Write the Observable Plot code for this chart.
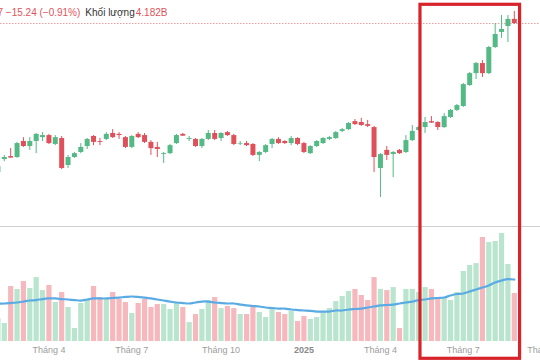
<!DOCTYPE html>
<html><head><meta charset="utf-8">
<script src="https://cdn.jsdelivr.net/npm/d3@7"></script>
<script src="https://cdn.jsdelivr.net/npm/@observablehq/plot@0.6"></script>
<style>
html,body{margin:0;padding:0;background:#fff;}
#chart{position:relative;width:540px;height:360px;overflow:hidden;background:#fff;}
.layer{position:absolute;left:0;}
#header{position:absolute;top:6px;left:-2.5px;font:10px "Liberation Sans",Arial,sans-serif;white-space:nowrap;line-height:13px;color:#333;}
#header .r{color:#e0535b;}
</style></head><body>
<div id="chart">
  <div id="price" class="layer" style="top:0"></div>
  <div id="vol" class="layer" style="top:226px"></div>
  <div id="header"><span class="r">7</span> <span class="r">−15.24 (−0.91%)</span><span style="margin-left:5px">Khối lượng</span><span class="r" style="margin-left:1px">4.182B</span></div>
  <div id="overlay" class="layer" style="top:0"></div>
</div>
<script>
// Weekly bars (Monday of each trading week)
const weeks = ["2024-02-05","2024-02-12","2024-02-19","2024-02-26","2024-03-04","2024-03-11","2024-03-18","2024-03-25","2024-04-01","2024-04-08","2024-04-15","2024-04-22","2024-04-29","2024-05-06","2024-05-13","2024-05-20","2024-05-27","2024-06-03","2024-06-10","2024-06-17","2024-06-24","2024-07-01","2024-07-08","2024-07-15","2024-07-22","2024-07-29","2024-08-05","2024-08-12","2024-08-19","2024-08-26","2024-09-02","2024-09-09","2024-09-16","2024-09-23","2024-09-30","2024-10-07","2024-10-14","2024-10-21","2024-10-28","2024-11-04","2024-11-11","2024-11-18","2024-11-25","2024-12-02","2024-12-09","2024-12-16","2024-12-23","2024-12-30","2025-01-06","2025-01-13","2025-01-20","2025-02-03","2025-02-10","2025-02-17","2025-02-24","2025-03-03","2025-03-10","2025-03-17","2025-03-24","2025-03-31","2025-04-07","2025-04-14","2025-04-21","2025-04-28","2025-05-05","2025-05-12","2025-05-19","2025-05-26","2025-06-02","2025-06-09","2025-06-16","2025-06-23","2025-06-30","2025-07-07","2025-07-14","2025-07-21","2025-07-28","2025-08-04","2025-08-11","2025-08-18","2025-08-25","2025-09-01"];
const futureWeeks = ["2025-09-08","2025-09-15","2025-09-22","2025-09-29","2025-10-06"];

const open  = [1157,1201,1211,1208,1262,1245,1262,1275,1282,1252,1272,1181,1208,1225,1245,1279,1262,1269,1289,1286,1275,1242,1286,1282,1259,1242,1218,1221,1255,1286,1269,1269,1245,1269,1289,1272,1292,1282,1252,1255,1252,1215,1225,1252,1269,1262,1255,1272,1255,1221,1245,1255,1269,1272,1296,1302,1329,1326,1319,1309,1171,1232,1218,1232,1225,1265,1299,1309,1329,1326,1309,1343,1367,1380,1451,1491,1525,1491,1579,1630,1650,1674];
const high  = [1188,1215,1238,1259,1275,1275,1289,1292,1286,1282,1279,1215,1225,1255,1272,1282,1272,1292,1302,1292,1279,1282,1292,1289,1265,1259,1225,1252,1286,1289,1279,1272,1272,1299,1299,1292,1296,1286,1262,1262,1255,1228,1252,1272,1275,1265,1279,1275,1259,1248,1265,1275,1279,1296,1306,1326,1336,1340,1333,1313,1221,1245,1228,1235,1282,1316,1313,1343,1346,1329,1356,1370,1387,1458,1495,1529,1535,1583,1660,1687,1687,1701];
const low   = [1147,1194,1205,1205,1242,1232,1221,1262,1252,1248,1167,1171,1205,1221,1235,1248,1248,1265,1272,1269,1238,1238,1272,1255,1215,1208,1188,1218,1252,1279,1262,1242,1238,1265,1265,1262,1279,1248,1248,1245,1211,1194,1221,1238,1252,1252,1248,1248,1221,1218,1242,1252,1265,1269,1292,1299,1316,1313,1309,1157,1073,1198,1140,1218,1221,1262,1296,1289,1323,1299,1306,1340,1363,1377,1448,1471,1478,1488,1576,1610,1596,1657];
const close = [1178,1208,1206,1255,1245,1262,1286,1282,1255,1275,1171,1208,1221,1242,1269,1259,1259,1286,1275,1282,1242,1279,1275,1259,1238,1235,1221,1248,1282,1280,1272,1245,1269,1289,1269,1289,1282,1252,1254,1248,1215,1225,1248,1269,1255,1255,1272,1252,1225,1245,1262,1272,1275,1292,1302,1323,1319,1316,1313,1208,1218,1215,1225,1221,1265,1296,1309,1326,1324,1309,1346,1367,1383,1454,1491,1525,1491,1579,1623,1640,1674,1660];
// weekly volume, billions of shares
const volume = [2.00,1.57,4.79,4.53,5.23,4.62,5.57,4.44,4.88,3.40,4.27,2.96,1.13,3.31,3.57,4.79,3.83,3.75,4.27,3.66,3.40,2.44,3.31,3.66,2.96,3.22,3.22,2.79,3.31,2.96,1.65,2.35,2.79,3.57,3.83,2.87,3.05,2.87,2.35,2.35,2.96,2.53,2.09,2.87,2.53,2.35,2.61,1.74,2.18,1.92,2.09,2.53,2.87,3.48,3.92,4.36,4.53,4.01,3.57,5.57,4.53,4.44,4.70,1.13,4.53,4.53,4.27,4.70,4.53,3.83,3.75,3.57,4.27,6.10,6.62,6.79,9.06,8.62,8.71,9.41,6.71,4.18];
// volume moving average
const volumeMA = [3.31,3.31,3.35,3.40,3.48,3.57,3.61,3.70,3.75,3.75,3.70,3.66,3.61,3.57,3.66,3.75,3.75,3.75,3.79,3.83,3.88,3.92,3.88,3.83,3.75,3.66,3.57,3.48,3.40,3.35,3.31,3.40,3.48,3.48,3.40,3.35,3.31,3.31,3.22,3.14,3.09,3.05,2.96,2.92,2.87,2.87,2.79,2.74,2.70,2.66,2.61,2.61,2.61,2.70,2.70,2.79,2.83,2.87,2.96,3.05,3.14,3.18,3.22,3.31,3.40,3.48,3.61,3.66,3.75,3.79,3.83,4.01,4.14,4.18,4.36,4.53,4.70,4.88,5.14,5.31,5.44,5.40];

const tickWeeks  = ["2024-04-01","2024-07-01","2024-10-07","2025-04-07","2025-07-07","2025-10-06"];
const tickLabels = ["Tháng 4","Tháng 7","Tháng 10","Tháng 4","Tháng 7","Tháng 10"];
const yearWeeks  = ["2025-01-06"];
const yearLabels = ["2025"];

const highlightStart = "2025-05-19";
const highlightEnd   = "2025-09-08";

const UP = "#53b985", DOWN = "#e0505a";
const UP_V = "#b9e4cd", DOWN_V = "#f6b8bd";

const bars = weeks.map((d, i) => ({
  date: d, open: open[i], high: high[i], low: low[i], close: close[i],
  volume: volume[i], ma: volumeMA[i], up: close[i] >= open[i]
}));
const ticks = tickWeeks.map((d, i) => ({date: d, label: tickLabels[i]}));
const years = yearWeeks.map((d, i) => ({date: d, label: yearLabels[i]}));

const xScale = {type: "point", domain: weeks.concat(futureWeeks), range: [-2.575, 545.675], padding: 0, round: false, axis: null};
const font = "'Liberation Sans', Arial, sans-serif";

const price = Plot.plot({
  width: 540, height: 226,
  marginTop: 0, marginBottom: 0, marginLeft: 0, marginRight: 0,
  x: xScale,
  y: {domain: [975.2, 1737.7], axis: null},
  color: {type: "identity"},
  style: {background: "transparent", fontFamily: font},
  marks: [
    Plot.ruleY([close[close.length - 1]], {stroke: "#ef9aa0", strokeWidth: 1, strokeDasharray: "1.5,1.5"}),
    Plot.ruleX(bars, {x: "date", y1: "low", y2: "high", stroke: d => d.up ? UP : DOWN, strokeWidth: 1}),
    Plot.ruleX(bars, {x: "date", y1: "open", y2: "close", stroke: d => d.up ? UP : DOWN, strokeWidth: 5})
  ]
});
document.getElementById("price").appendChild(price);

const vol = Plot.plot({
  width: 540, height: 134,
  marginTop: 0, marginBottom: 19, marginLeft: 0, marginRight: 0,
  x: xScale,
  y: {domain: [0, 10.02], axis: null},
  color: {type: "identity"},
  style: {background: "transparent", fontFamily: font},
  marks: [
    Plot.frame({anchor: "top", stroke: "#cfcfcf", strokeWidth: 1.2}),
    Plot.ruleX(bars, {x: "date", y1: 0, y2: "volume", stroke: d => d.up ? UP_V : DOWN_V, strokeWidth: 5.2}),
    Plot.line(bars, {x: "date", y: "ma", stroke: "#5aabe4", strokeWidth: 2.2, curve: "catmull-rom"}),
    Plot.text(ticks, {x: "date", text: "label", frameAnchor: "bottom", dy: 11, fill: "#9d9d9d", fontSize: 9, fontFamily: font}),
    Plot.text(years, {x: "date", text: "label", frameAnchor: "bottom", dy: 11, fill: "#8a8a8a", fontSize: 9, fontWeight: "bold", fontFamily: font})
  ]
});
document.getElementById("vol").appendChild(vol);

const overlay = Plot.plot({
  width: 540, height: 360,
  marginTop: 4.3, marginBottom: 1.7, marginLeft: 0, marginRight: 0,
  x: xScale,
  style: {background: "transparent"},
  marks: [
    Plot.rect([{start: highlightStart, end: highlightEnd}], {x1: "start", x2: "end", fill: "none", stroke: "#d8232b", strokeWidth: 3.2, insetLeft: 1.8, insetRight: 0.6})
  ]
});
document.getElementById("overlay").appendChild(overlay);
</script>
</body></html>
